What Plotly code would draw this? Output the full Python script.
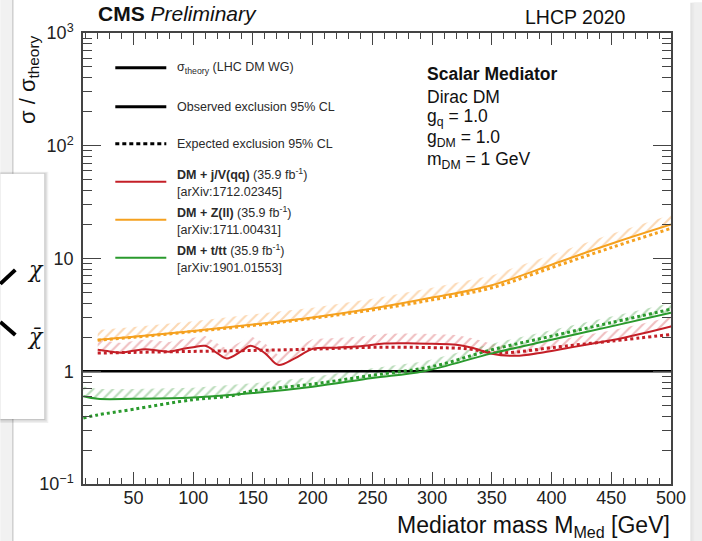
import plotly.graph_objects as go

# ---------------- data ----------------
mass_jv_obs = [20, 30, 40, 50, 60, 70, 80, 90, 100, 110, 120, 128, 140, 148, 160, 171, 185, 200, 220, 240, 260, 280, 300, 320, 335, 350, 370, 390, 410, 430, 450, 475, 500]
ratio_jv_obs = [1.55, 1.50, 1.46, 1.52, 1.57, 1.53, 1.49, 1.57, 1.63, 1.68, 1.45, 1.30, 1.50, 1.68, 1.45, 1.14, 1.30, 1.58, 1.62, 1.67, 1.76, 1.77, 1.75, 1.72, 1.60, 1.43, 1.37, 1.45, 1.58, 1.73, 1.88, 2.15, 2.50]
mass_jv_exp = [20, 50, 100, 150, 200, 250, 300, 330, 350, 370, 400, 450, 500]
ratio_jv_exp = [1.45, 1.47, 1.50, 1.53, 1.57, 1.63, 1.62, 1.58, 1.46, 1.48, 1.62, 1.85, 2.12]

mass_zll = [20, 50, 100, 150, 200, 250, 300, 350, 400, 450, 500]
ratio_zll_obs = [1.90, 2.02, 2.28, 2.60, 3.00, 3.60, 4.50, 5.80, 8.80, 13.5, 20.0]
ratio_zll_exp = [1.88, 2.00, 2.25, 2.55, 2.95, 3.50, 4.30, 5.50, 8.30, 12.5, 18.5]

mass_tt_obs = [8, 20, 50, 100, 150, 200, 250, 293, 350, 400, 450, 500]
ratio_tt_obs = [0.60, 0.57, 0.57, 0.585, 0.64, 0.73, 0.87, 1.00, 1.44, 1.90, 2.50, 3.30]
mass_tt_exp = [8, 20, 50, 100, 130, 150, 200, 250, 300, 350, 400, 450, 500]
ratio_tt_exp = [0.385, 0.41, 0.46, 0.56, 0.60, 0.67, 0.77, 0.92, 1.10, 1.55, 2.05, 2.70, 3.55]

mass_theory = [7.7, 500]
ratio_theory = [1, 1]

x_ticks = [50, 100, 150, 200, 250, 300, 350, 400, 450, 500]
y_ticks = [0.1, 1, 10, 100, 1000]
y_ticktext = ["10<sup>\u22121</sup>", "1", "10", "10<sup>2</sup>", "10<sup>3</sup>"]

# ---------------- style ----------------
RED, ORANGE, GREEN = "#c41f27", "#f5a11f", "#2a9a2d"
HATCH = {RED: "rgba(220,110,115,0.9)", ORANGE: "rgba(246,170,90,0.9)", GREEN: "rgba(100,175,100,0.9)"}
FONT = "Liberation Sans, Arial, sans-serif"
HATCH_FACTOR = 1.22
DOT = "3px,3px"

L, R, T, B = 82.7, 670.7, 33.3, 484.0
def px(x):
    return (x - L) / (R - L)
def py(y):
    return (B - y) / (B - T)

fig = go.Figure()

def add_obs(xs, ys, color):
    fig.add_trace(go.Scatter(x=xs, y=ys, mode="lines", line=dict(width=0, color=color),
                             showlegend=False, hoverinfo="skip"))
    fig.add_trace(go.Scatter(x=xs, y=[v * HATCH_FACTOR for v in ys], mode="lines",
                             line=dict(width=0, color=color), fill="tonexty",
                             fillcolor="rgba(0,0,0,0)",
                             fillpattern=dict(shape="/", fgcolor=HATCH[color], bgcolor="rgba(0,0,0,0)",
                                              size=7, solidity=0.3),
                             showlegend=False, hoverinfo="skip"))

add_obs(mass_zll, ratio_zll_obs, ORANGE)
add_obs(mass_jv_obs, ratio_jv_obs, RED)
add_obs(mass_tt_obs, ratio_tt_obs, GREEN)

fig.add_trace(go.Scatter(x=mass_theory, y=ratio_theory, mode="lines",
                         line=dict(color="black", width=2.5), showlegend=False))

for xs, ys, c in [(mass_zll, ratio_zll_exp, ORANGE), (mass_jv_exp, ratio_jv_exp, RED), (mass_tt_exp, ratio_tt_exp, GREEN)]:
    fig.add_trace(go.Scatter(x=xs, y=ys, mode="lines", line=dict(color=c, width=3, dash=DOT, shape="spline"),
                             showlegend=False))
for xs, ys, c in [(mass_zll, ratio_zll_obs, ORANGE), (mass_jv_obs, ratio_jv_obs, RED), (mass_tt_obs, ratio_tt_obs, GREEN)]:
    fig.add_trace(go.Scatter(x=xs, y=ys, mode="lines", line=dict(color=c, width=2, shape="spline"),
                             showlegend=False))

minor_y = [k * 10 ** d for d in range(-1, 3) for k in range(2, 10)]

fig.update_xaxes(range=[7.7, 500], tickvals=x_ticks, ticks="inside", ticklen=12, tickwidth=1.2,
                 tickcolor="#444", showline=True, linecolor="#444", linewidth=1.5, mirror="ticks",
                 showgrid=False, zeroline=False, ticklabelstandoff=-3,
                 tickfont=dict(family=FONT, size=18, color="#222"),
                 minor=dict(dtick=10, tick0=0, ticks="inside", ticklen=6, tickcolor="#444", tickwidth=1.2, showgrid=False))
fig.update_yaxes(type="log", range=[-1, 3], tickvals=y_ticks, ticktext=y_ticktext, ticks="inside",
                 ticklen=18, tickwidth=1.2, tickcolor="#444", showline=True, linecolor="#444", linewidth=1.5,
                 mirror="ticks", showgrid=False, zeroline=False, ticklabelstandoff=4,
                 tickfont=dict(family=FONT, size=18, color="#222"),
                 minor=dict(tickvals=minor_y, ticks="inside", ticklen=9, tickcolor="#444", tickwidth=1.2, showgrid=False))

shapes = []
ann = []

# slide background / shadows
shapes.append(dict(type="rect", xref="paper", yref="paper", x0=px(0), x1=px(12), y0=py(541), y1=py(0),
                   fillcolor="#f1f1f1", line=dict(width=0), layer="below"))
shapes.append(dict(type="line", xref="paper", yref="paper", x0=px(12.5), x1=px(12.5), y0=py(541), y1=py(0),
                   line=dict(color="#cfcfcf", width=1.5), layer="below"))
for i, col in enumerate(["#e4e4e4", "#eaeaea", "#efefef"]):
    shapes.append(dict(type="rect", xref="paper", yref="paper", x0=px(690 + 2 * i), x1=px(702), y0=py(541), y1=py(3),
                       fillcolor=col, line=dict(width=0), layer="below"))

# overlay box with diagram fragment
for off, col in [(4, "rgba(0,0,0,0.06)"), (2.5, "rgba(0,0,0,0.08)"), (1, "rgba(0,0,0,0.10)")]:
    shapes.append(dict(type="rect", xref="paper", yref="paper", x0=px(0), x1=px(44 + off), y0=py(419 + off), y1=py(174 - off / 2),
                       fillcolor=col, line=dict(width=0)))
shapes.append(dict(type="rect", xref="paper", yref="paper", x0=px(0), x1=px(44), y0=py(419), y1=py(174),
                   fillcolor="white", line=dict(width=0)))
shapes.append(dict(type="line", xref="paper", yref="paper", x0=px(0), x1=px(15), y0=py(284), y1=py(270),
                   line=dict(color="black", width=4)))
shapes.append(dict(type="line", xref="paper", yref="paper", x0=px(0), x1=px(15), y0=py(322), y1=py(335),
                   line=dict(color="black", width=4)))
ann.append(dict(x=px(35), y=py(270), text="<i>\u03c7</i>", font=dict(family="DejaVu Serif", size=22, color="#111")))
ann.append(dict(x=px(35), y=py(337), text="<i>\u03c7\u0304</i>", font=dict(family="DejaVu Serif", size=22, color="#111")))

# header texts
ann.append(dict(x=px(96), y=py(14), xanchor="left", text="<b>CMS</b> <i>Preliminary</i>",
                font=dict(family=FONT, size=21, color="#111")))
ann.append(dict(x=px(628), y=py(17), xanchor="right", text="LHCP 2020",
                font=dict(family=FONT, size=19.5, color="#111")))

# axis titles
ann.append(dict(x=px(672), y=py(526), xanchor="right", text="Mediator mass M<sub>Med</sub> [GeV]",
                font=dict(family=FONT, size=23, color="#111")))
ann.append(dict(x=px(28), y=py(80), textangle=-90, text="\u03c3 / \u03c3<sub>theory</sub>",
                font=dict(family=FONT, size=22, color="#111")))

# model text block
model_lines = [("<b>Scalar Mediator</b>", 74), ("Dirac DM", 97), ("g<sub>q</sub> = 1.0", 118),
               ("g<sub>DM</sub> = 1.0", 139), ("m<sub>DM</sub> = 1 GeV", 161)]
for txt, yc in model_lines:
    ann.append(dict(x=px(425), y=py(yc), xanchor="left", text=txt, font=dict(family=FONT, size=17.5, color="#111")))

# legend
LEG_X0, LEG_X1, LEG_TX = 115, 166, 175
leg_lines = [(68, "black", 3, "solid"), (107, "black", 3, "solid"), (144, "black", 3, "4px,3px"),
             (182, RED, 2, "solid"), (220, ORANGE, 2, "solid"), (258, GREEN, 2, "solid")]
for yc, c, w, d in leg_lines:
    shapes.append(dict(type="line", xref="paper", yref="paper", x0=px(LEG_X0), x1=px(LEG_X1), y0=py(yc), y1=py(yc),
                       line=dict(color=c, width=w, dash=d)))
leg_text = [("\u03c3<sub>theory</sub> (LHC DM WG)", 68), ("Observed exclusion 95% CL", 107),
            ("Expected exclusion 95% CL", 144),
            ("<b>DM + j/V(qq)</b> (35.9 fb<sup>-1</sup>)", 174), ("[arXiv:1712.02345]", 192),
            ("<b>DM + Z(ll)</b> (35.9 fb<sup>-1</sup>)", 212), ("[arXiv:1711.00431]", 230),
            ("<b>DM + t/tt</b> (35.9 fb<sup>-1</sup>)", 250), ("[arXiv:1901.01553]", 268)]
for txt, yc in leg_text:
    ann.append(dict(x=px(LEG_TX), y=py(yc), xanchor="left", text=txt, font=dict(family=FONT, size=12.5, color="#2a2a2a")))

for a in ann:
    a.setdefault("xref", "paper")
    a.setdefault("yref", "paper")
    a.setdefault("showarrow", False)
    a.setdefault("xanchor", "center")
    a.setdefault("yanchor", "middle")

fig.update_layout(width=702, height=541, margin=dict(l=L, r=702 - R, t=T, b=541 - B),
                  paper_bgcolor="white", plot_bgcolor="white", shapes=shapes, annotations=ann,
                  showlegend=False)

fig.write_html("out.html")
